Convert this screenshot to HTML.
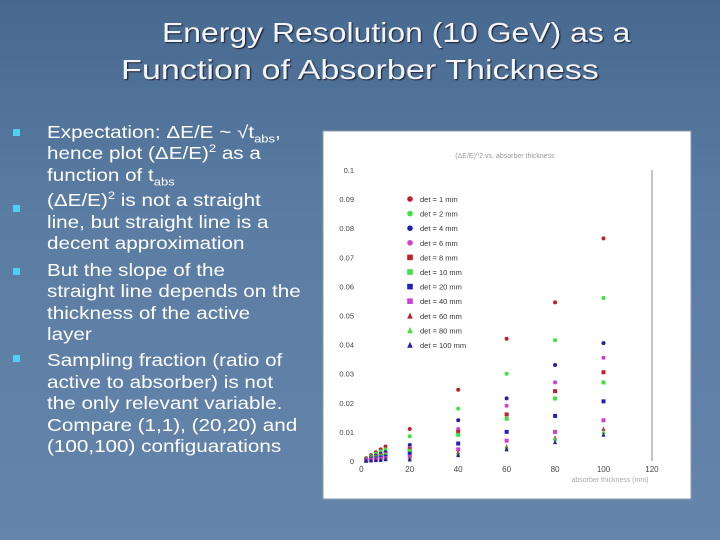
<!DOCTYPE html>
<html><head><meta charset="utf-8"><style>
body{margin:0;width:720px;height:540px;overflow:hidden;background:linear-gradient(180deg,#47698f 0%,#5b7ca3 40%,#6585ab 100%);font-family:"Liberation Sans",sans-serif;position:relative}
.t{position:absolute;color:#f2f6fa;font-size:28px;white-space:nowrap;text-shadow:1px 1px 1px #223;transform-origin:left top}
.ln{position:absolute;left:47px;color:#fff;font-size:17.5px;white-space:nowrap;line-height:20px;transform:scaleX(1.18);transform-origin:left top}
.b{position:absolute;left:13px;width:7px;height:7px;background:#4fd0f0}
sub,sup{font-size:11px;line-height:0}
</style></head><body>
<div class="t" style="left:162px;top:17px;transform:scaleX(1.14)">Energy Resolution (10 GeV) as a</div>
<div class="t" style="left:121px;top:54px;transform:scaleX(1.22)">Function of Absorber Thickness</div>
<div>
<div class="b" style="top:129px"></div><div class="b" style="top:205px"></div><div class="b" style="top:268px"></div><div class="b" style="top:355px"></div>
<div class="ln" style="top:122px">Expectation: ΔE/E ~ √t<sub>abs</sub>,</div>
<div class="ln" style="top:143px">hence plot (ΔE/E)<sup>2</sup> as a</div>
<div class="ln" style="top:165px">function of t<sub>abs</sub></div>
<div class="ln" style="top:190px">(ΔE/E)<sup>2</sup> is not a straight</div>
<div class="ln" style="top:212px">line, but straight line is a</div>
<div class="ln" style="top:233px">decent approximation</div>
<div class="ln" style="top:260px">But the slope of the</div>
<div class="ln" style="top:281px">straight line depends on the</div>
<div class="ln" style="top:303px">thickness of the active</div>
<div class="ln" style="top:324px">layer</div>
<div class="ln" style="top:350px">Sampling fraction (ratio of</div>
<div class="ln" style="top:372px">active to absorber) is not</div>
<div class="ln" style="top:393px">the only relevant variable.</div>
<div class="ln" style="top:415px">Compare (1,1), (20,20) and</div>
<div class="ln" style="top:436px">(100,100) configuarations</div>
</div>
<svg id="ch" width="720" height="540" style="position:absolute;left:0;top:0"></svg>
<script>
const xs=[2,4,6,8,10,20,40,60,80,100];
const labels=["det = 1 mm","det = 2 mm","det = 4 mm","det = 6 mm","det = 8 mm","det = 10 mm","det = 20 mm","det = 40 mm","det = 60 mm","det = 80 mm","det = 100 mm"];
const s1=[0.001,0.002,0.003,0.004,0.005,0.011,0.0245,0.042,0.0545,0.0765];
const s2=[0.0008,0.0016,0.0025,0.0033,0.004,0.0085,0.018,0.030,0.0415,0.056];
const s3=[0.0006,0.0012,0.0018,0.0024,0.003,0.0055,0.014,0.0215,0.033,0.0405];
const s4=[0.0005,0.001,0.0015,0.002,0.0025,0.0045,0.011,0.019,0.027,0.0355];
const s5=[0.0004,0.0009,0.0013,0.0018,0.0022,0.004,0.010,0.016,0.024,0.0305];
const s6=[0.0004,0.0008,0.0012,0.0016,0.002,0.0035,0.009,0.0145,0.0215,0.027];
const s7=[0.0003,0.0006,0.0009,0.0012,0.0015,0.0025,0.006,0.010,0.0155,0.0205];
const s8=[0.0002,0.0004,0.0006,0.0008,0.001,0.0015,0.004,0.007,0.010,0.014];
const s9=[0.0002,0.0003,0.0005,0.0006,0.0008,0.001,0.003,0.005,0.008,0.011];
const s10=[0.0001,0.0003,0.0004,0.0005,0.0007,0.0008,0.0025,0.0045,0.0075,0.010];
const s11=[0.0001,0.0002,0.0003,0.0004,0.0006,0.0005,0.002,0.004,0.0065,0.009];
const series=[s1,s2,s3,s4,s5,s6,s7,s8,s9,s10,s11];
const colors=["#c0202a","#40e040","#2020a0","#d040d0","#c0202a","#40e040","#2020c0","#d040d0","#c0202a","#40e040","#2020a0"];
const shapes=["c","c","c","c","s","s","s","s","t","t","t"];
const xticks=[0,20,40,60,80,100,120];
const yticks=[0,0.01,0.02,0.03,0.04,0.05,0.06,0.07,0.08,0.09,0.1];
const X=v=>361.3+v*2.422, Y=v=>461-v*2910;
const NS="http://www.w3.org/2000/svg", svg=document.getElementById('ch');
function mk(t,a,p){const e=document.createElementNS(NS,t);for(const k in a)e.setAttribute(k,a[k]);(p||svg).appendChild(e);return e;}
const bg=mk('rect',{x:323,y:131,width:368,height:368,fill:'#fff',stroke:'#8899aa'});


const tt=mk('text',{x:505,y:158,'font-size':7,fill:'#999','text-anchor':'middle'});tt.textContent='(ΔE/E)^2 vs. absorber thickness';


mk('line',{x1:652,y1:170,x2:652,y2:461,stroke:'#888'});
xticks.forEach(v=>{const t=mk('text',{x:X(v),y:472,'font-size':8,fill:'#444','text-anchor':'middle'});t.textContent=v;

});
yticks.forEach(v=>{const t=mk('text',{x:354,y:Y(v)+3,'font-size':7.5,fill:'#444','text-anchor':'end'});t.textContent=v;

});
const xl=mk('text',{x:610,y:482,'font-size':7,fill:'#aaa','text-anchor':'middle'});xl.textContent='absorber thickness (mm)';


function mark(sh,cx,cy,c,r){
 if(sh==='c')return mk('circle',{cx,cy,r:r,fill:c});
 if(sh==='s')return mk('rect',{x:cx-r,y:cy-r,width:2*r,height:2*r,fill:c});
 return mk('polygon',{points:`${cx},${cy-r-0.5} ${cx-r},${cy+r} ${cx+r},${cy+r}`,fill:c});}
series.forEach((s,i)=>{s.forEach((v,j)=>{const m=mark(shapes[i],X(xs[j]),Y(v),colors[i],2);

});
const ly=199+i*14.6;
const lm=mark(shapes[i],410,ly,colors[i],2.8);


const lt=mk('text',{x:420,y:ly+3,'font-size':7.5,fill:'#333'});lt.textContent=labels[i];

});
</script>
</body></html>
